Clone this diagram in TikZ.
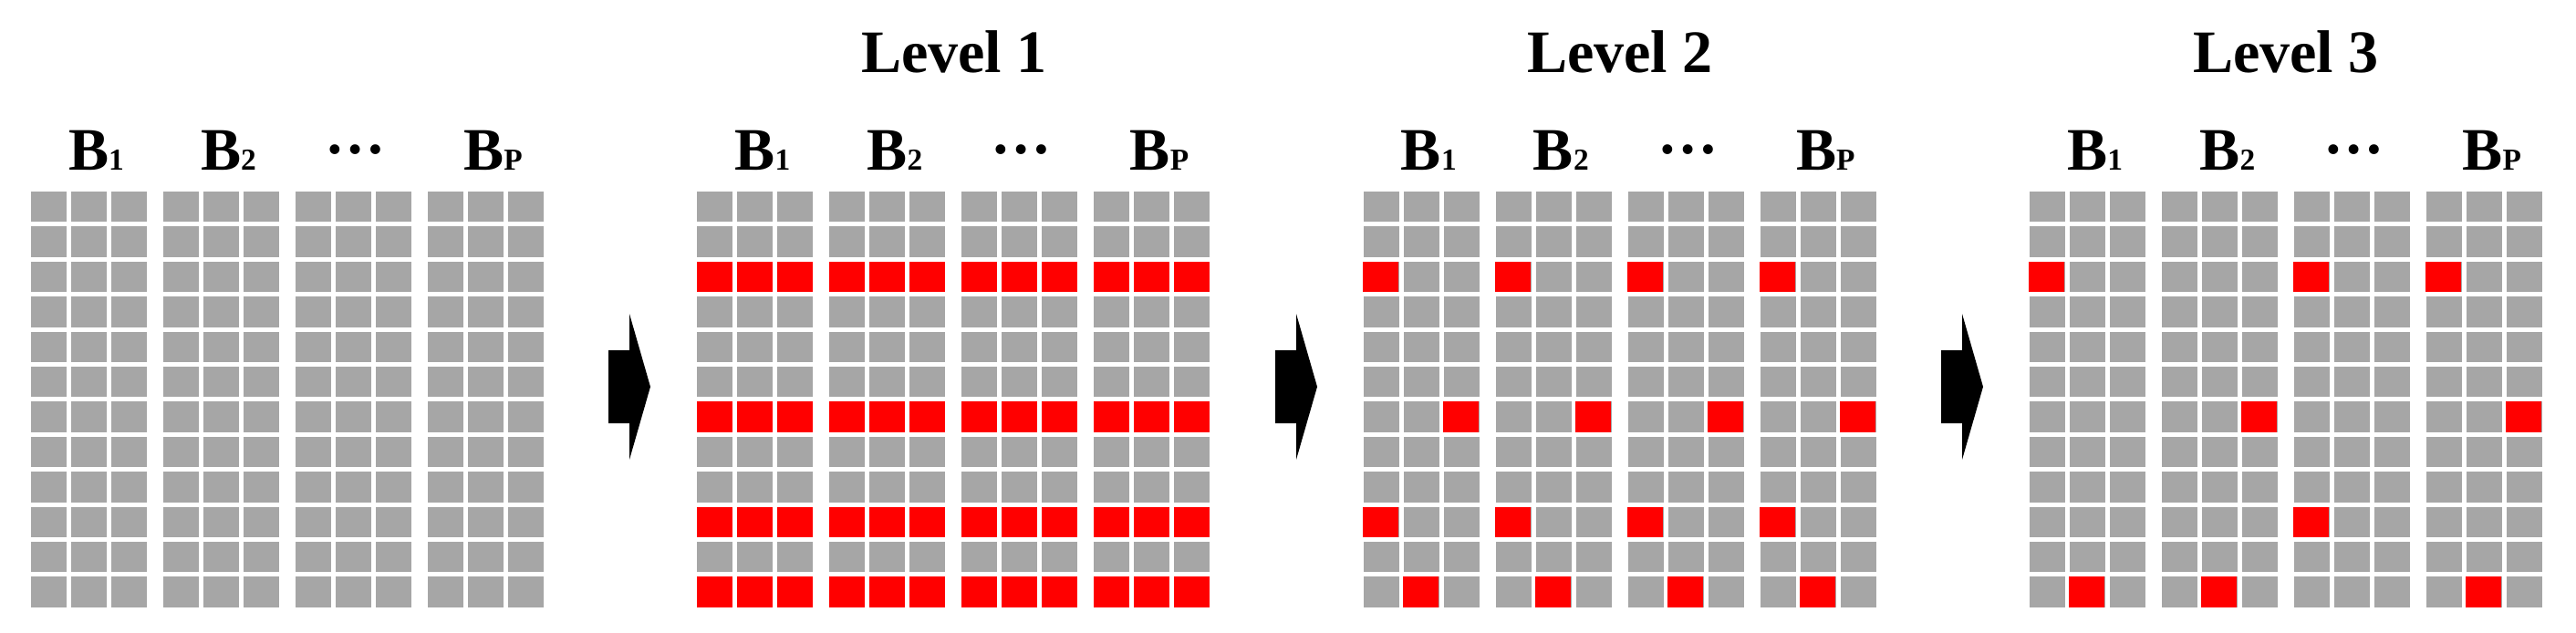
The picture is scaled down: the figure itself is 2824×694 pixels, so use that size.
\documentclass[tikz,border=0pt]{standalone}
\usepackage{fontspec}
\setmainfont{Liberation Serif}
\definecolor{cellgray}{RGB}{166,166,166}
\definecolor{hitred}{RGB}{255,0,0}
\tikzset{
  cell/.style={fill=cellgray},
  hit/.style={fill=hitred},
  blocklabel/.style={inner sep=0pt,anchor=base,font=\fontsize{18.8}{22}\selectfont\bfseries},
}
\newcommand{\subidx}[1]{{\fontsize{9.5}{11}\selectfont #1}}
\newcommand{\hitcell}[4]{\fill[hit] ({34+#1*730+#2*145+#3*44},{210+#4*38.4}) rectangle ++(39,33.4);}

\begin{document}
\begin{tikzpicture}[x=0.01cm,y=-0.01cm]
  \useasboundingbox (0,0) rectangle (2824,694);
  \foreach \p in {0,...,3} {
    \begin{scope}[xshift={\p*7.3cm}]
      \foreach \g in {0,...,3}
        \foreach \c in {0,1,2}
          \foreach \r in {0,...,11}
            \fill[cell] ({34+\g*145+\c*44},{210+\r*38.4}) rectangle ++(39,33.4);
      \node[blocklabel] (b1-\p) at (105.5,186) {B\subidx{1}};
      \node[blocklabel] (b2-\p) at (250.5,186) {B\subidx{2}};
      \node[blocklabel] (dots-\p) at (389.5,186) {\raisebox{0.26em}{…}};
      \node[blocklabel] (bp-\p) at (540.5,186) {B\subidx{P}};
    \end{scope}
  }

  \node[blocklabel] (lvl1) at (1046,79) {Level 1};
  \node[blocklabel] (lvl2) at (1776,79) {Level 2};
  \node[blocklabel] (lvl3) at (2506,79) {Level 3};

  \foreach \g in {0,...,3}
    \foreach \c in {0,1,2}
      \foreach \r in {2,6,9,11} {\hitcell{1}{\g}{\c}{\r}}
  \foreach \g in {0,...,3}
    \foreach \c/\r in {0/2,2/6,0/9,1/11} {\hitcell{2}{\g}{\c}{\r}}
  \foreach \g/\c/\r in {0/0/2,0/1/11,1/2/6,1/1/11,2/0/2,2/0/9,3/0/2,3/2/6,3/1/11} {\hitcell{3}{\g}{\c}{\r}}

  \foreach \a in {667,1398,2128}
    \fill (\a,384) -- (\a+23,384) -- (\a+23,344) -- (\a+46,424)
      -- (\a+23,504) -- (\a+23,464) -- (\a,464) -- cycle;
\end{tikzpicture}
\end{document}
